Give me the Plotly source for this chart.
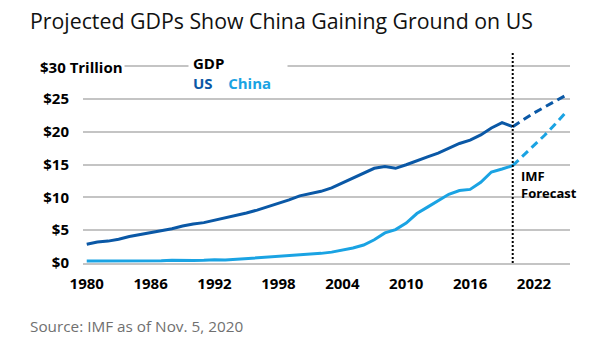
import plotly.graph_objects as go

# GDP in trillions of current US dollars; 2021 onward are IMF projections
years = list(range(1980, 2026))
us_gdp = [2.86, 3.21, 3.34, 3.63, 4.04, 4.34, 4.58, 4.86, 5.24, 5.64,
          5.96, 6.16, 6.52, 6.86, 7.29, 7.64, 8.07, 8.58, 9.06, 9.63,
          10.25, 10.58, 10.94, 11.46, 12.21, 13.04, 13.82, 14.45, 14.71, 14.45,
          14.99, 15.54, 16.20, 16.78, 17.53, 18.24, 18.75, 19.54, 20.61, 21.43,
          20.81, 21.90, 22.90, 23.80, 24.70, 25.60]
china_gdp = [0.30, 0.29, 0.28, 0.30, 0.31, 0.31, 0.30, 0.33, 0.41, 0.46,
             0.40, 0.42, 0.50, 0.45, 0.56, 0.73, 0.86, 0.96, 1.03, 1.09,
             1.21, 1.34, 1.47, 1.66, 1.96, 2.29, 2.75, 3.55, 4.59, 5.10,
             6.09, 7.55, 8.53, 9.57, 10.48, 11.06, 11.23, 12.31, 13.89, 14.34,
             14.86, 16.40, 17.90, 19.50, 21.20, 23.00]
forecast_start = 2020

x_ticks = [1980, 1986, 1992, 1998, 2004, 2010, 2016, 2022]
y_ticks = [0, 5, 10, 15, 20, 25, 30]
y_tick_text = ["$0", "$5", "$10", "$15", "$20", "$25", ""]

US_BLUE = "#0a58a6"
CHINA_BLUE = "#1aa3e3"
GRID = "#c4c4c4"
FONT = "Open Sans"

W, H = 605, 341
M_L, M_R, M_T, M_B = 83, 35, 52, 78
PLOT_W = W - M_L - M_R
PLOT_H = H - M_T - M_B


def px_x(p):
    """Horizontal pixel position -> paper coordinate."""
    return (p - M_L) / PLOT_W


def px_y(p):
    """Vertical pixel position -> paper coordinate."""
    return (H - M_B - p) / PLOT_H


split = years.index(forecast_start)

fig = go.Figure()
for values, color in ((us_gdp, US_BLUE), (china_gdp, CHINA_BLUE)):
    fig.add_trace(go.Scatter(
        x=years[:split + 1], y=values[:split + 1], mode="lines",
        line=dict(color=color, width=3), hoverinfo="skip", showlegend=False))
    fig.add_trace(go.Scatter(
        x=years[split:], y=values[split:], mode="lines",
        line=dict(color=color, width=3, dash="8px,5px"),
        hoverinfo="skip", showlegend=False))

# dotted divider marking where the forecast begins
fig.add_shape(type="line", xref="x", yref="paper",
              x0=forecast_start, x1=forecast_start, y0=0, y1=1,
              line=dict(color="black", width=2, dash="2px,2px"), layer="above")

bold = dict(family=FONT, size=15, color="black", weight="bold")

fig.add_annotation(xref="paper", yref="paper", x=px_x(38), y=px_y(66.5),
                   xanchor="left", yanchor="middle", text="$30 Trillion",
                   showarrow=False, font=bold, bgcolor="white", borderpad=1)

fig.add_annotation(xref="paper", yref="paper", x=px_x(188), y=px_y(48),
                   xanchor="left", yanchor="top", align="left",
                   text=("GDP&nbsp;&nbsp;<br>"
                         f"<span style='color:{US_BLUE}'>US</span>"
                         "&nbsp;&nbsp;&nbsp;&nbsp;"
                         f"<span style='color:{CHINA_BLUE}'>China</span>"
                         "&nbsp;&nbsp;&nbsp;"),
                   showarrow=False, font=bold, bgcolor="white", borderpad=4)

fig.add_annotation(xref="paper", yref="paper", x=px_x(519), y=px_y(165),
                   xanchor="left", yanchor="top", align="left",
                   text="IMF<br>Forecast", showarrow=False,
                   font=dict(family=FONT, size=13, color="black", weight="bold"))

fig.add_annotation(xref="paper", yref="paper", x=px_x(28), y=px_y(20),
                   xanchor="left", yanchor="middle",
                   text="Projected GDPs Show China Gaining Ground on US",
                   showarrow=False,
                   font=dict(family=FONT, size=21.3, color="#111111",
                             weight=500))

fig.add_annotation(xref="paper", yref="paper", x=px_x(28), y=px_y(326),
                   xanchor="left", yanchor="middle",
                   text="Source: IMF as of Nov. 5, 2020", showarrow=False,
                   font=dict(family=FONT, size=15.3, color="#707070"))

fig.update_xaxes(range=[1979.65, 2025.38], tickvals=x_ticks,
                 ticktext=[str(v) for v in x_ticks], showgrid=False,
                 zeroline=False, showline=True, linecolor=GRID, linewidth=1.5,
                 ticks="", tickfont=bold, ticklabelstandoff=6, fixedrange=True)
fig.update_yaxes(range=[0, 32.2], tickvals=y_ticks, ticktext=y_tick_text,
                 showgrid=True, gridcolor=GRID, gridwidth=1.5, zeroline=False,
                 ticks="", tickfont=bold, ticklabelstandoff=13, fixedrange=True)

fig.update_layout(width=W, height=H,
                  margin=dict(l=M_L, r=M_R, t=M_T, b=M_B),
                  paper_bgcolor="white", plot_bgcolor="white",
                  showlegend=False)

fig.write_html("out.html", config={"displayModeBar": False})
